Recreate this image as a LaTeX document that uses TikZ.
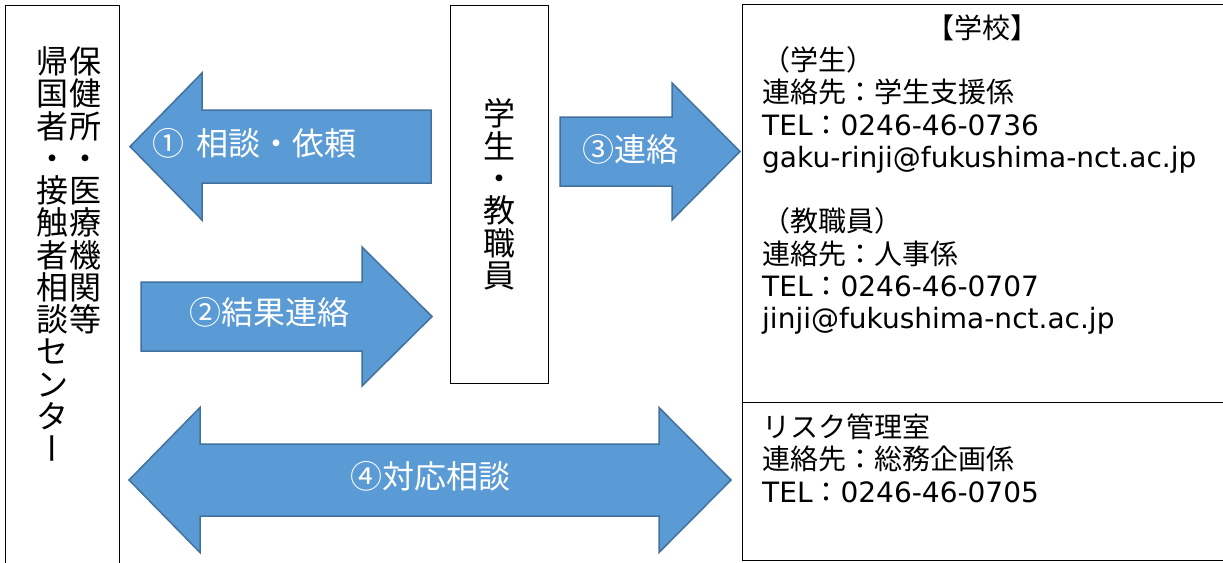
\documentclass[tikz,border=0pt]{standalone}
\usepackage{fontspec}
\usepackage{graphicx}
\setmainfont{DejaVu Sans}
\newfontfamily\jp{Noto Sans CJK JP}
\definecolor{arrowfill}{HTML}{5B9BD5}
\definecolor{arrowline}{HTML}{41719C}
\newcommand\vstk[1]{\vtop{\lineskiplimit=-100pt\relax\halign{\hfil##\hfil\cr#1\crcr}}}
\newcommand\lstk[1]{\vtop{\lineskiplimit=-100pt\relax\halign{##\hfil\cr#1\crcr}}}
\newcommand\vbar{\rotatebox[origin=c]{90}{\raisebox{0pt}[0.76em][0pt]{ー}}}
\begin{document}
\begin{tikzpicture}[x=1pt,y=-1pt,
  box/.style={draw=black,line width=1pt,inner sep=0pt,anchor=north west},
  barrow/.style={fill=arrowfill,draw=arrowline,line width=1.5pt,line join=miter},
  alabel/.style={text=white,inner sep=0pt,font=\jp\fontsize{32}{32}\selectfont},
  vtext/.style={inner sep=0pt,anchor=base,font=\jp\fontsize{32}{32.25}\selectfont},
  info/.style={inner sep=0pt,anchor=base west,font=\fontsize{28}{32.3}\selectfont}]
\useasboundingbox (0,0) rectangle (1223,562);
\fill[white] (0,0) rectangle (1223,562);

% boxes
\node[box,minimum width=114pt,minimum height=562pt] (leftbox) at (4.5,4.5) {};
\node[box,minimum width=98pt,minimum height=378.5pt] (midbox) at (450,4.5) {};
\node[box,minimum width=484pt,minimum height=397.5pt] (schoolbox) at (742,4) {};
\node[box,minimum width=484pt,minimum height=158pt] (riskbox) at (742,401.5) {};

% block arrows
\draw[barrow] (130,146.5) -- (202,73) -- (202,110) -- (431,110) -- (431,183)
  -- (202,183) -- (202,220) -- cycle;
\draw[barrow] (141,282) -- (362,282) -- (362,247) -- (432,316.5) -- (362,386)
  -- (362,351) -- (141,351) -- cycle;
\draw[barrow] (560,117) -- (672,117) -- (672,83) -- (740,151.5) -- (672,220)
  -- (672,186) -- (560,186) -- cycle;
\draw[barrow] (129,480) -- (200,407.5) -- (200,444) -- (659,444) -- (659,407.5)
  -- (731,480) -- (659,552.5) -- (659,516) -- (200,516) -- (200,552.5) -- cycle;

% arrow labels
\node[alabel] (l1) at (254.5,143) {①\hspace{0.4em}相談・依頼};
\node[alabel] (l2) at (269.5,312.5) {②結果連絡};
\node[alabel] (l3) at (630,149) {③連絡};
\node[alabel] (l4) at (430,476) {④対応相談};

% vertical texts
\node[vtext] (hokenjo) at (85,73.5) {\vstk{保\cr 健\cr 所\cr ・\cr 医\cr 療\cr 機\cr 関\cr 等}};
\node[vtext] (kikoku) at (52.5,73.5) {\vstk{帰\cr 国\cr 者\cr ・\cr 接\cr 触\cr 者\cr 相\cr 談\cr セ\cr ン\cr タ\cr \vbar}};
\node[vtext,font=\jp\fontsize{32}{32.4}\selectfont] (gakusei) at (499,125.7) {\vstk{学\cr 生\cr ・\cr 教\cr 職\cr 員}};

% school info
\node[inner sep=0pt,anchor=base,font=\jp\fontsize{28}{32.3}\selectfont] (title) at (982.5,38) {【学校】};
\node[info] (schoolinfo) at (762,70.4) {\lstk{{\jp （学生）}\cr
{\jp 連絡先：学生支援係}\cr
TEL{\jp ：}0246-46-0736\cr
gaku-rinji@fukushima-nct.ac.jp\cr
\cr
{\jp （教職員）}\cr
{\jp 連絡先：人事係}\cr
TEL{\jp ：}0246-46-0707\cr
jinji@fukushima-nct.ac.jp}};
\node[info] (riskinfo) at (762,437.5) {\lstk{{\jp リスク管理室}\cr
{\jp 連絡先：総務企画係}\cr
TEL{\jp ：}0246-46-0705}};
\end{tikzpicture}
\end{document}
